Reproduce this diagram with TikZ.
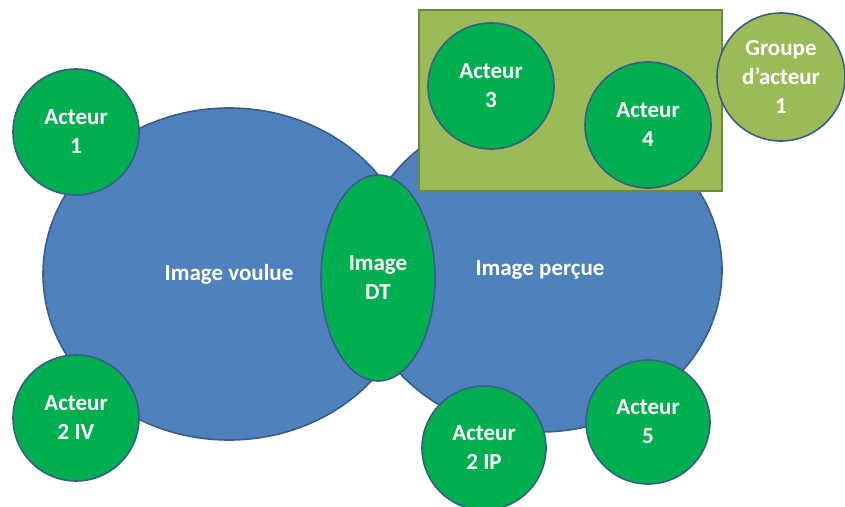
\documentclass[tikz,border=0pt]{standalone}
\usepackage{fontspec}
\setmainfont{Carlito}
\usetikzlibrary{shapes.geometric}
\definecolor{imgblue}{HTML}{4F81BD}
\definecolor{imgline}{HTML}{385D8A}
\definecolor{actgreen}{HTML}{00B050}
\definecolor{grpolive}{HTML}{9BBB59}
\definecolor{grpline}{HTML}{71893F}
\begin{document}
\begin{tikzpicture}[x=1pt,y=-1pt,
    txt/.style={text=white,align=center,font=\fontsize{23}{29}\selectfont\bfseries},
    image/.style={txt,ellipse,draw=imgline,line width=1.6pt,fill=imgblue,inner sep=0pt},
    acteur/.style={txt,circle,draw=imgline,line width=1.6pt,fill=actgreen,inner sep=0pt,minimum size=126pt},
    groupe/.style={txt,circle,draw=imgline,line width=1.6pt,fill=grpolive,inner sep=0pt,minimum size=128pt}]
  \useasboundingbox (0,0) rectangle (845,506);
  % the two images
  \node[image,minimum width=372pt,minimum height=332pt] (voulue) at (229,274) {Image voulue};
  \node[image,minimum width=364pt,minimum height=324pt] (percue) at (540,270) {Image perçue};
  % group of actors
  \draw[draw=grpline,fill=grpolive,line width=1.6pt] (419,10) rectangle (722,191);
  \node[groupe] (g1) at (781,77) {Groupe\\d’acteur\\1};
  \node[acteur] (a3) at (491,86) {Acteur\\3};
  \node[acteur] (a4) at (648,125) {Acteur\\4};
  % image DT
  \node[image,fill=actgreen,minimum width=114pt,minimum height=206pt] (dt) at (378,278) {Image\\DT};
  % actors
  \node[acteur] (a1) at (76,132) {Acteur\\1};
  \node[acteur] (a2iv) at (76,418) {Acteur\\2 IV};
  \node[acteur,minimum size=124pt] (a2ip) at (484,448) {Acteur\\2 IP};
  \node[acteur,minimum size=124pt] (a5) at (648,422) {Acteur\\5};
\end{tikzpicture}
\end{document}
